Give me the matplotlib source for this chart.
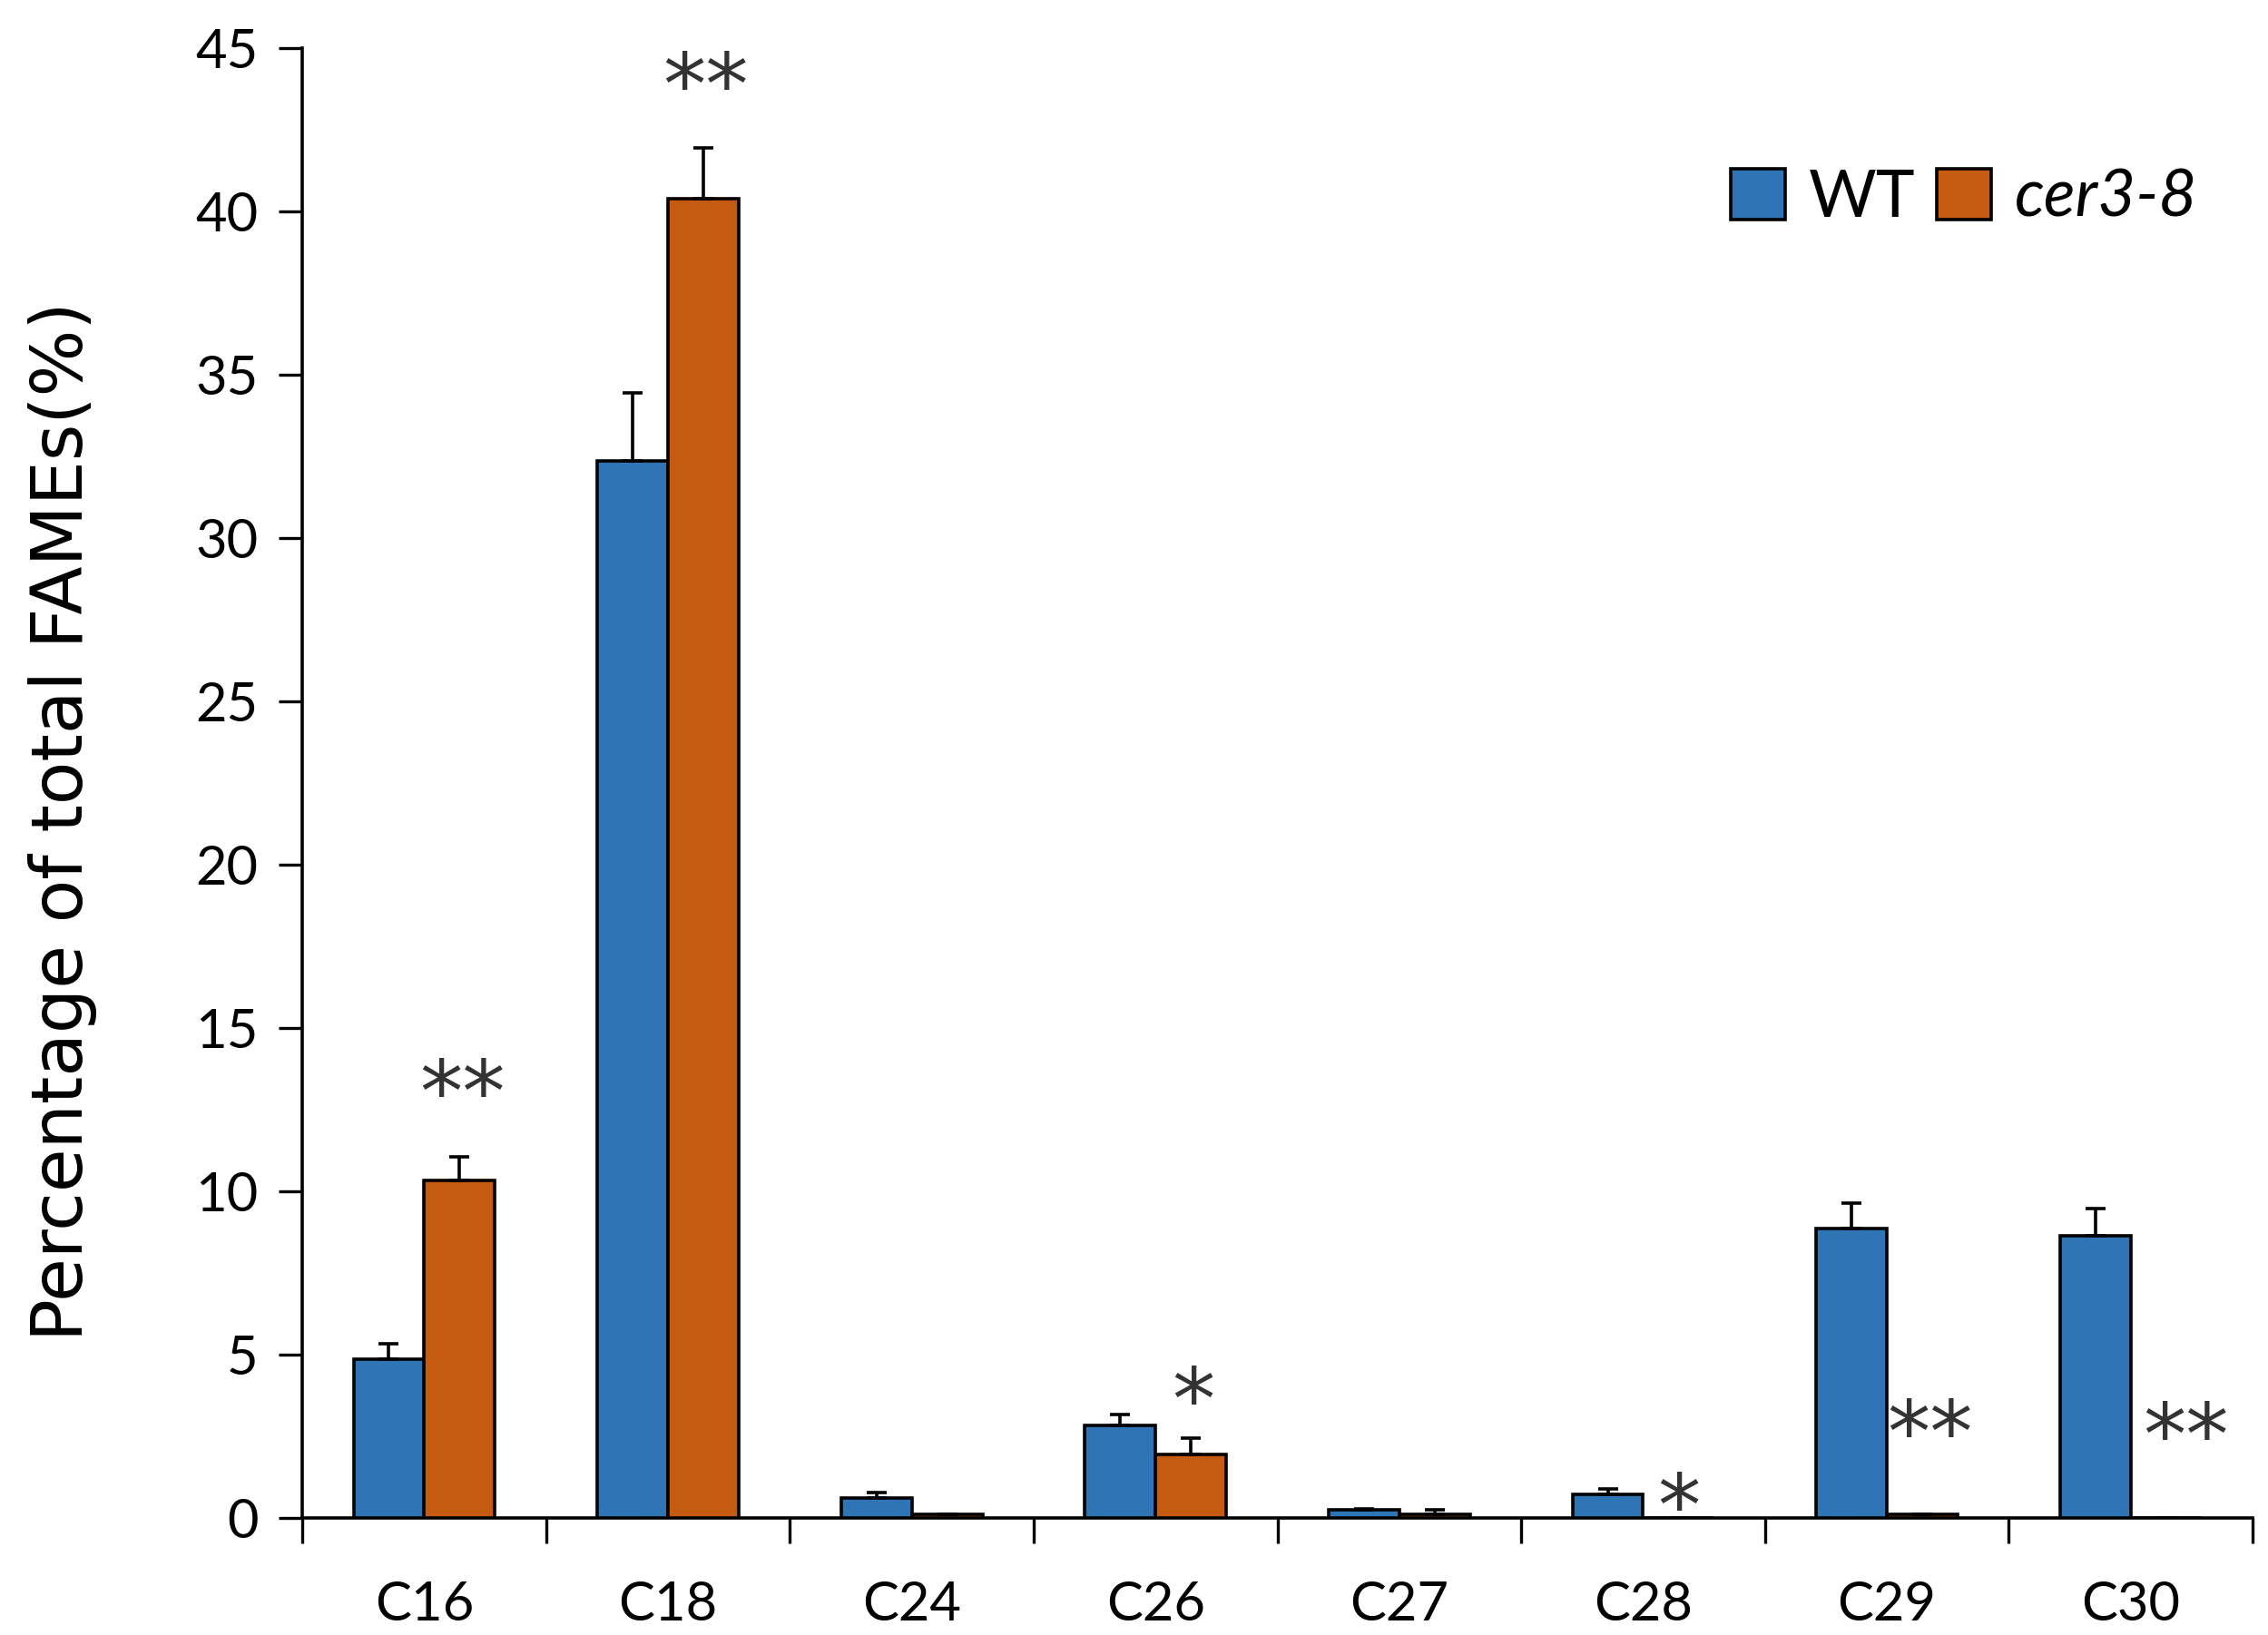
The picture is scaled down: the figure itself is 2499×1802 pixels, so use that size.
import numpy as np
import matplotlib
matplotlib.use("Agg")
import matplotlib.pyplot as plt

# fatty acid chain lengths and percentages of total FAMEs
categories = ["C16", "C18", "C24", "C26", "C27", "C28", "C29", "C30"]
wt_values = [4.87, 32.35, 0.60, 2.82, 0.25, 0.72, 8.85, 8.63]
wt_errors = [0.47, 2.10, 0.17, 0.34, 0.04, 0.16, 0.78, 0.85]
cer_values = [10.33, 40.38, 0.10, 1.95, 0.10, 0.00, 0.10, 0.00]
cer_errors = [0.72, 1.55, 0.00, 0.48, 0.16, 0.00, 0.00, 0.00]
# significance marks near the cer3-8 bars: (category index, text, y, x shift)
sig_marks = [(0, "**", 12.85, 0.01), (1, "**", 43.7, 0.01),
             (3, "*", 3.45, 0.01), (5, "*", 0.2, 0.0),
             (6, "**", 2.45, 0.03), (7, "**", 2.35, 0.08)]

WT_COLOR = "#2F74B5"
CER_COLOR = "#C55A11"
BAR_W = 0.29

plt.rcParams["font.family"] = ["Lato", "DejaVu Sans"]

fig = plt.figure(figsize=(24.99, 18.02), dpi=100)
ax = fig.add_axes([0.1333, 0.0716, 0.8599, 0.8990])

x = np.arange(len(categories))
err_kw = dict(ecolor="black", elinewidth=2.6, capsize=8, capthick=2.6)
ax.bar(x - BAR_W / 2, wt_values, BAR_W, color=WT_COLOR, edgecolor="black",
       linewidth=2.6, label="WT",
       yerr=[np.zeros(len(x)), wt_errors], error_kw=err_kw, zorder=3)
ax.bar(x + BAR_W / 2, cer_values, BAR_W, color=CER_COLOR, edgecolor="black",
       linewidth=2.6, label="cer3-8",
       yerr=[np.zeros(len(x)), cer_errors], error_kw=err_kw, zorder=3)

for idx, txt, yv, dx in sig_marks:
    ax.text(idx + BAR_W / 2 + dx, yv, txt, ha="center", va="center",
            fontsize=68, color="#333333", family="DejaVu Sans")

ax.set_xlim(-0.5, len(categories) - 0.5)
ax.set_ylim(0, 45)
ax.set_yticks(np.arange(0, 46, 5))
ax.set_xticks(x)
ax.set_xticklabels(categories)
ax.set_xticks(np.arange(-0.5, len(categories)), minor=True)
ax.tick_params(axis="x", which="major", length=0, pad=50, labelsize=43)
ax.tick_params(axis="x", which="minor", length=20, width=2.4, direction="out")
ax.tick_params(axis="y", length=19, width=2.4, pad=16, labelsize=43)

for side in ("top", "right"):
    ax.spines[side].set_visible(False)
for side in ("left", "bottom"):
    ax.spines[side].set_linewidth(2.6)

ax.set_ylabel("Percentage of total FAMEs(%)", fontsize=56,
              family="DejaVu Sans")
ax.yaxis.set_label_coords(-0.105, 0.474)

leg = ax.legend(loc="center left", bbox_to_anchor=(0.7325, 0.898), ncol=2,
                frameon=False, fontsize=52, handlelength=0.83,
                handleheight=0.83, handletextpad=0.36, columnspacing=0.32,
                borderpad=0, borderaxespad=0)
leg.get_texts()[1].set_style("italic")
for h in leg.legend_handles:
    h.set_linewidth(2.6)

fig.savefig("out.png", dpi=100, facecolor="white")
